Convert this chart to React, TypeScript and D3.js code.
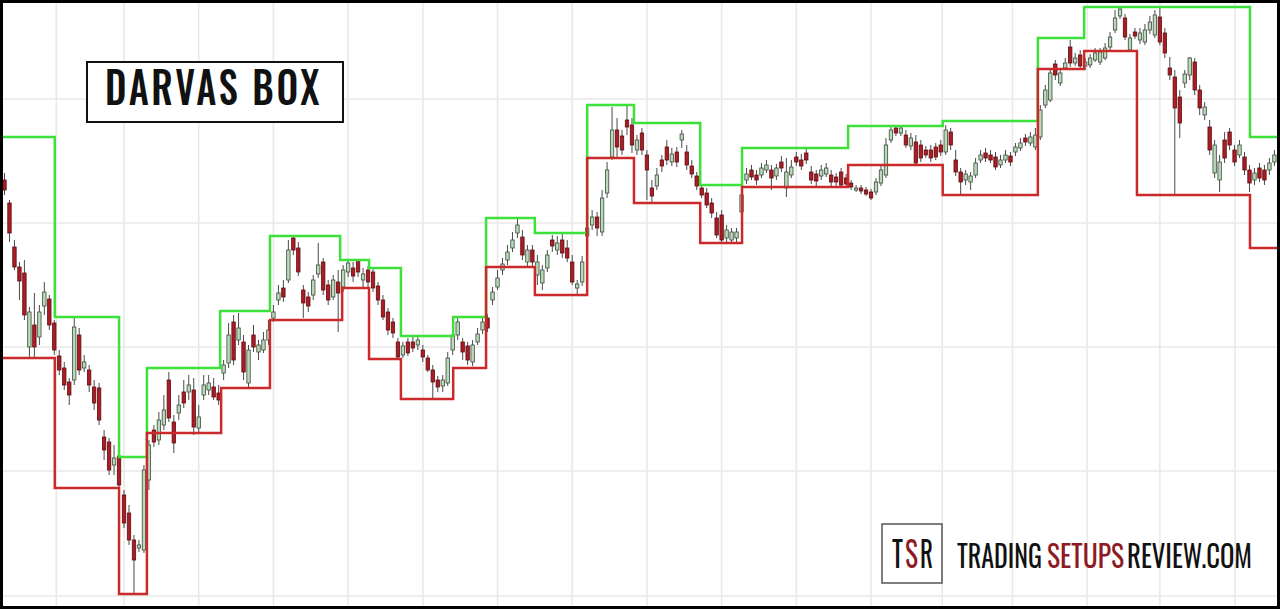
import React from 'react';
import * as d3 from 'd3';

const W = 1280;
const H = 610;

// horizontal gridline price levels
const priceGrid = [52.1, 39.7, 27.3, 14.9, 2.4];
// bar numbers where vertical gridlines fall
const timeGrid = [10.4, 24, 39, 54, 69, 84, 99, 114, 129, 144, 159, 174, 188.3, 202.4, 217.4, 232, 247.1];

const open = [
  44.0, 41.7, 37.3, 35.3, 34.7, 27.3, 29.5, 28.3, 31.4, 32.1,
  29.7, 26.4, 25.2, 23.8, 24.0, 28.5, 25.2, 25.0, 23.3, 23.2,
  18.3, 17.8, 15.5, 16.4, 12.5, 10.7, 8.0, 7.2, 7.0, 14.0,
  19.0, 18.0, 19.5, 24.0, 19.8, 20.7, 22.8, 22.8, 23.0, 19.2,
  22.5, 23.0, 23.3, 22.7, 24.7, 25.7, 29.8, 28.0, 27.8, 23.7,
  28.5, 26.8, 27.0, 28.0, 30.2, 32.0, 33.2, 34.0, 38.2, 37.2,
  33.0, 32.3, 32.5, 34.6, 35.8, 33.5, 32.3, 33.8, 33.3, 34.8,
  35.2, 36.0, 34.0, 35.0, 34.8, 33.4, 32.0, 30.8, 29.8, 27.8,
  26.5, 27.8, 27.8, 27.5, 27.0, 26.2, 25.0, 24.0, 23.4, 23.7,
  27.0, 28.5, 27.8, 27.4, 25.8, 27.8, 29.0, 30.2, 32.0, 33.3,
  35.0, 36.0, 37.2, 38.7, 38.3, 35.8, 37.0, 34.5, 33.7, 35.2,
  38.0, 37.0, 38.0, 37.2, 35.8, 33.2, 33.8, 38.4, 39.5, 40.3,
  38.8, 42.7, 46.3, 49.0, 48.4, 50.0, 49.5, 47.0, 48.7, 46.5,
  43.2, 43.4, 46.0, 47.3, 45.8, 46.8, 48.0, 46.8, 45.4, 44.4,
  43.2, 42.7, 41.7, 40.2, 40.5, 38.2, 38.0, 38.2, 40.8, 44.0,
  45.0, 44.5, 44.5, 45.0, 45.0, 44.4, 45.8, 43.2, 44.5, 46.3,
  46.0, 46.7, 44.8, 44.6, 44.4, 44.6, 44.5, 44.3, 44.8, 44.2,
  43.7, 43.0, 43.2, 43.0, 42.8, 42.8, 43.7, 44.5, 48.0, 49.2,
  48.7, 48.5, 47.4, 47.8, 47.5, 47.0, 47.0, 47.3, 47.5, 46.8,
  48.8, 46.0, 44.8, 44.0, 43.8, 44.5, 46.0, 46.7, 46.5, 46.3,
  45.5, 46.0, 46.4, 46.8, 47.2, 48.2, 47.7, 47.3, 48.3, 51.5,
  52.0, 55.6, 53.7, 55.2, 57.3, 55.7, 56.5, 55.4, 55.5, 56.0,
  55.8, 56.2, 57.3, 59.0, 60.4, 60.2, 57.0, 58.8, 58.0, 57.8,
  59.0, 58.5, 60.3, 58.7, 55.2, 54.3, 52.3, 53.7, 54.5, 55.8,
  53.0, 50.5, 49.3, 44.7, 44.0, 48.0, 48.8, 47.0, 46.5, 46.3,
  45.0, 44.0, 45.2, 45.0, 45.0, 45.8,
];

const high = [
  44.7, 42.0, 38.0, 35.8, 36.0, 31.3, 32.7, 31.5, 33.8, 32.5,
  30.0, 27.0, 25.8, 24.2, 30.2, 29.2, 26.5, 25.5, 24.0, 23.7,
  19.0, 18.2, 17.5, 16.8, 13.0, 11.5, 8.5, 8.0, 15.5, 18.0,
  19.5, 20.8, 22.5, 24.8, 20.5, 22.5, 24.0, 24.5, 24.2, 21.5,
  24.5, 24.5, 24.2, 23.5, 26.0, 29.7, 30.5, 30.7, 28.5, 27.5,
  29.5, 28.0, 28.8, 30.0, 31.5, 33.5, 34.0, 38.0, 38.4, 37.8,
  33.5, 32.8, 34.5, 37.7, 36.2, 34.0, 34.5, 35.0, 35.5, 36.0,
  35.8, 36.0, 35.2, 35.4, 35.2, 33.8, 32.5, 31.2, 30.2, 28.2,
  27.8, 28.2, 28.3, 28.4, 27.5, 26.5, 25.5, 24.4, 24.5, 26.8,
  29.0, 30.3, 28.2, 27.8, 28.0, 29.2, 30.3, 30.6, 33.3, 35.0,
  36.2, 37.5, 38.8, 40.2, 39.0, 37.5, 37.5, 36.5, 35.5, 37.0,
  38.5, 38.4, 38.6, 38.0, 36.5, 34.0, 36.4, 39.8, 41.0, 40.8,
  43.0, 45.8, 51.3, 50.2, 49.0, 51.5, 50.2, 48.5, 49.2, 47.0,
  44.0, 45.2, 46.5, 48.0, 47.2, 47.3, 49.0, 47.5, 46.0, 44.8,
  43.5, 43.2, 42.2, 40.8, 41.0, 39.5, 39.2, 39.2, 43.0, 45.2,
  45.5, 45.0, 45.7, 46.0, 45.5, 45.6, 46.4, 46.2, 46.0, 46.8,
  46.6, 47.2, 45.4, 45.0, 45.5, 45.7, 45.0, 44.7, 45.2, 44.6,
  44.0, 43.5, 43.5, 43.3, 43.1, 44.2, 45.5, 48.2, 49.4, 49.5,
  49.5, 49.0, 48.7, 48.5, 48.0, 47.4, 47.5, 47.7, 48.0, 49.5,
  49.2, 47.0, 45.2, 45.0, 44.8, 46.2, 47.0, 47.2, 47.0, 46.8,
  46.5, 47.0, 46.8, 47.7, 48.2, 48.6, 48.8, 49.2, 51.5, 53.5,
  55.2, 56.0, 55.2, 56.2, 58.0, 56.7, 57.0, 56.2, 56.6, 57.2,
  57.2, 57.7, 58.8, 61.0, 61.3, 60.6, 58.6, 59.2, 59.2, 59.6,
  60.4, 61.0, 61.3, 59.2, 56.3, 55.0, 53.0, 55.0, 56.3, 56.2,
  53.5, 51.8, 50.0, 48.0, 46.5, 48.8, 49.2, 47.5, 48.0, 46.8,
  45.5, 45.2, 45.7, 45.5, 46.2, 47.0,
];

const low = [
  42.5, 37.8, 35.0, 32.0, 30.0, 26.2, 26.2, 27.5, 30.5, 29.0,
  26.5, 24.5, 23.0, 21.5, 23.5, 24.5, 24.8, 22.8, 21.0, 19.5,
  16.0, 14.5, 14.5, 13.0, 9.2, 7.5, 2.6, 6.8, 6.7, 13.0,
  17.3, 17.5, 19.0, 19.8, 16.7, 20.0, 21.2, 22.0, 18.5, 18.7,
  22.0, 22.5, 22.0, 21.5, 24.0, 25.2, 25.5, 27.5, 24.0, 23.2,
  26.8, 26.0, 26.7, 27.5, 29.8, 31.5, 31.8, 33.7, 36.5, 34.4,
  30.2, 30.8, 32.0, 34.2, 32.5, 31.5, 32.0, 28.8, 32.8, 34.3,
  33.8, 34.3, 33.3, 33.2, 32.8, 31.5, 30.0, 28.5, 28.2, 26.1,
  26.2, 26.4, 26.8, 27.0, 25.8, 24.8, 22.1, 22.8, 22.8, 23.4,
  26.5, 28.0, 26.0, 25.5, 25.4, 27.5, 28.6, 28.8, 31.5, 33.0,
  34.5, 35.5, 36.8, 38.2, 36.0, 35.3, 35.2, 33.5, 33.0, 34.8,
  36.8, 36.5, 36.2, 35.8, 33.5, 32.6, 33.4, 38.0, 39.0, 38.4,
  38.4, 42.2, 46.0, 46.3, 46.5, 48.5, 46.7, 46.5, 46.5, 42.0,
  41.7, 43.0, 44.8, 45.5, 45.4, 45.3, 47.2, 45.0, 44.2, 43.0,
  42.2, 41.2, 40.2, 38.2, 37.7, 37.8, 37.7, 37.8, 40.4, 43.6,
  44.0, 43.5, 44.2, 44.7, 43.0, 44.0, 44.8, 42.3, 44.2, 45.4,
  45.0, 45.6, 43.6, 43.4, 44.0, 44.3, 43.4, 43.4, 43.2, 43.3,
  43.0, 42.8, 42.6, 42.4, 42.0, 42.5, 43.4, 44.2, 47.7, 48.4,
  48.4, 47.2, 47.0, 45.4, 45.8, 46.2, 45.8, 46.0, 46.4, 46.5,
  47.0, 44.4, 42.5, 43.5, 43.0, 44.2, 45.7, 45.8, 45.7, 45.0,
  45.2, 45.7, 45.4, 46.4, 46.9, 47.4, 47.4, 47.0, 48.0, 51.2,
  51.8, 54.0, 53.4, 55.0, 55.3, 55.4, 55.0, 55.0, 55.2, 55.8,
  55.5, 56.0, 57.0, 58.7, 60.1, 58.0, 56.8, 58.1, 57.6, 57.5,
  58.6, 58.2, 57.5, 56.2, 54.0, 42.5, 48.2, 53.2, 54.0, 52.5,
  50.5, 50.0, 46.5, 44.2, 42.8, 45.7, 47.0, 45.4, 46.2, 44.5,
  42.8, 43.5, 43.8, 43.5, 44.5, 45.4,
];

const close = [
  43.0, 38.7, 35.3, 33.9, 30.5, 30.8, 27.3, 30.8, 32.8, 29.5,
  27.0, 25.0, 23.5, 22.5, 29.3, 25.0, 25.8, 23.5, 21.7, 20.0,
  17.0, 15.0, 16.2, 13.5, 9.7, 8.0, 6.0, 7.5, 15.0, 17.5,
  17.8, 20.0, 21.0, 20.2, 17.7, 21.5, 21.7, 23.5, 19.3, 20.3,
  23.5, 23.7, 22.3, 22.0, 25.5, 28.5, 26.0, 29.2, 24.8, 27.0,
  27.3, 27.5, 28.0, 29.0, 30.8, 32.7, 32.3, 37.0, 37.0, 34.8,
  31.7, 31.4, 34.0, 35.5, 33.0, 32.0, 34.0, 32.7, 35.0, 35.7,
  34.4, 34.8, 34.6, 33.8, 33.2, 32.0, 30.3, 29.0, 28.7, 26.3,
  27.4, 26.7, 27.2, 28.0, 26.3, 25.0, 23.8, 23.3, 24.0, 26.2,
  28.5, 29.8, 26.8, 26.0, 27.5, 28.6, 29.8, 29.2, 32.8, 34.2,
  35.6, 36.8, 38.0, 39.5, 36.5, 37.0, 35.8, 35.8, 35.0, 36.5,
  37.4, 37.7, 36.7, 36.2, 33.8, 33.6, 35.8, 39.2, 40.3, 39.2,
  42.2, 45.0, 49.0, 47.3, 47.0, 49.3, 47.5, 48.0, 47.0, 45.0,
  42.4, 44.5, 45.4, 46.0, 46.6, 45.8, 48.6, 45.5, 44.6, 43.4,
  42.5, 41.5, 40.7, 38.5, 38.0, 39.0, 38.8, 38.8, 42.5, 44.6,
  44.3, 44.0, 45.2, 45.5, 44.2, 45.2, 45.2, 44.8, 45.3, 45.8,
  45.4, 46.0, 44.0, 43.9, 45.0, 45.2, 43.8, 43.8, 43.5, 43.6,
  43.3, 43.2, 42.9, 42.6, 42.2, 43.8, 45.0, 47.5, 49.0, 48.7,
  49.2, 47.5, 48.2, 45.7, 46.2, 46.5, 46.2, 46.3, 46.8, 49.0,
  47.5, 44.8, 43.8, 44.6, 44.4, 45.7, 46.5, 46.2, 46.0, 45.3,
  46.0, 46.5, 45.8, 47.3, 47.7, 47.8, 48.3, 48.5, 51.0, 53.0,
  54.7, 54.5, 54.7, 55.7, 55.7, 56.2, 55.4, 55.8, 56.2, 56.7,
  56.8, 57.2, 58.3, 60.2, 61.1, 58.3, 58.2, 58.4, 58.7, 59.0,
  59.8, 60.5, 57.8, 56.7, 54.5, 51.2, 49.7, 54.6, 56.2, 53.0,
  51.2, 51.3, 47.0, 47.5, 45.8, 46.2, 47.5, 45.8, 47.5, 45.0,
  43.7, 44.7, 44.2, 44.0, 45.7, 46.5,
];

// Darvas box tops (green) : bar where each level starts, and level
const upperStarts = [-1, 10.1, 23.0, 28.6, 43.3, 53.3, 67.4, 73.2, 79.6, 90.1, 96.7, 106.5, 117.0, 126.4, 139.7, 148.1, 169.4, 188.4, 207.5, 216.8, 250.1];
const upperLevels = [48.3, 30.3, 16.3, 25.2, 30.9, 38.4, 36.0, 35.2, 28.4, 30.3, 40.2, 38.7, 51.5, 49.7, 43.5, 47.2, 49.4, 49.9, 58.2, 61.3, 48.3];

// Darvas box bottoms (red)
const lowerStarts = [-1, 10.1, 23.0, 28.6, 43.5, 53.3, 67.8, 73.2, 79.6, 90.1, 96.7, 106.5, 117.0, 126.4, 139.7, 148.1, 169.4, 188.4, 207.5, 216.8, 227.4, 250.1];
const lowerLevels = [26.2, 13.2, 2.6, 18.7, 23.2, 30.0, 33.2, 26.1, 22.1, 25.2, 35.3, 32.5, 46.2, 41.7, 37.7, 43.3, 45.5, 42.5, 55.1, 56.9, 42.5, 37.2];

const LAST_BAR = 256.2;

// logo text pieces
const logoMark = ['T', 'S', 'R'];
const logoWords = ['TRADING', 'SETUPS', 'REVIEW.COM'];

export default function App() {
  const x = d3.scaleLinear().domain([0, 255]).range([4.5, 4.5 + 255 * 4.98]);
  const y = d3.scaleLinear().domain([0, 62]).range([620, 0]);
  const bw = 3.4;

  const stepLine = d3
    .line<[number, number]>()
    .x((d) => x(d[0]))
    .y((d) => y(d[1]))
    .curve(d3.curveStepAfter);

  const upperPts: [number, number][] = upperStarts.map((s, i) => [s, upperLevels[i]]);
  upperPts.push([LAST_BAR, upperLevels[upperLevels.length - 1]]);
  const lowerPts: [number, number][] = lowerStarts.map((s, i) => [s, lowerLevels[i]]);
  lowerPts.push([LAST_BAR, lowerLevels[lowerLevels.length - 1]]);

  const font = "Oswald, 'Liberation Sans Narrow', 'Roboto', 'DejaVu Sans Condensed', sans-serif";
  const darkRed = '#8e1b24';

  // layout of logo letters / words (left x, width)
  const markPos = [
    [892, 11],
    [905, 13],
    [920, 13],
  ];
  const wordPos = [
    [957, 85],
    [1047, 77],
    [1127, 125],
  ];

  return (
    <svg
      width={W}
      height={H}
      style={{ position: 'absolute', left: 0, top: 0, background: '#fff' }}
    >
      <defs>
        <clipPath id="plot">
          <rect x={3} y={3} width={1274} height={603} />
        </clipPath>
      </defs>
      <rect x={0} y={0} width={W} height={H} fill="#fff" />
      <g clipPath="url(#plot)">
        {priceGrid.map((p) => (
          <line key={'h' + p} x1={0} x2={W} y1={y(p)} y2={y(p)} stroke="#e9e9e9" strokeWidth={1.6} />
        ))}
        {timeGrid.map((b) => (
          <line key={'v' + b} x1={x(b)} x2={x(b)} y1={0} y2={H} stroke="#e9e9e9" strokeWidth={1.6} />
        ))}
        {open.map((o, i) => {
          const c = close[i];
          const up = c >= o;
          const cx = x(i);
          const top = y(Math.max(o, c));
          const hgt = Math.max(1, Math.abs(y(o) - y(c)));
          return (
            <g key={i}>
              <line x1={cx} x2={cx} y1={y(high[i])} y2={y(low[i])} stroke="#4a4a4a" strokeWidth={1} />
              <rect
                x={cx - bw / 2}
                y={top}
                width={bw}
                height={hgt}
                fill={up ? '#b9d9b9' : '#ab1c25'}
                stroke={up ? '#3c4a3c' : '#5e0d12'}
                strokeWidth={0.8}
              />
            </g>
          );
        })}
        <path d={stepLine(upperPts) || ''} fill="none" stroke="#3ee03a" strokeWidth={2.5} />
        <path d={stepLine(lowerPts) || ''} fill="none" stroke="#cc2a2a" strokeWidth={2.5} />
      </g>

      {/* Title box */}
      <rect x={87} y={62} width={256} height={60} fill="#fff" stroke="#111" strokeWidth={2} />
      <text
        x={105}
        y={105}
        fontFamily={font}
        fontSize={44}
        fontWeight={500}
        letterSpacing={3}
        fill="#111"
        textLength={217}
        lengthAdjust="spacingAndGlyphs"
      >
        DARVAS BOX
      </text>

      {/* Logo */}
      <rect x={882} y={524} width={60} height={59} fill="none" stroke="#555" strokeWidth={1.5} />
      {logoMark.map((ch, i) => (
        <text
          key={ch + i}
          x={markPos[i][0]}
          y={568}
          fontFamily={font}
          fontSize={36}
          fontWeight={400}
          fill={i === 1 ? darkRed : '#111'}
          textLength={markPos[i][1]}
          lengthAdjust="spacingAndGlyphs"
        >
          {ch}
        </text>
      ))}
      {logoWords.map((w, i) => (
        <text
          key={w}
          x={wordPos[i][0]}
          y={568}
          fontFamily={font}
          fontSize={30}
          fontWeight={400}
          fill={i === 1 ? darkRed : '#111'}
          textLength={wordPos[i][1]}
          lengthAdjust="spacingAndGlyphs"
        >
          {w}
        </text>
      ))}

      {/* outer frame */}
      <rect x={1.5} y={1.5} width={1277} height={606} fill="none" stroke="#000" strokeWidth={3} />
    </svg>
  );
}
